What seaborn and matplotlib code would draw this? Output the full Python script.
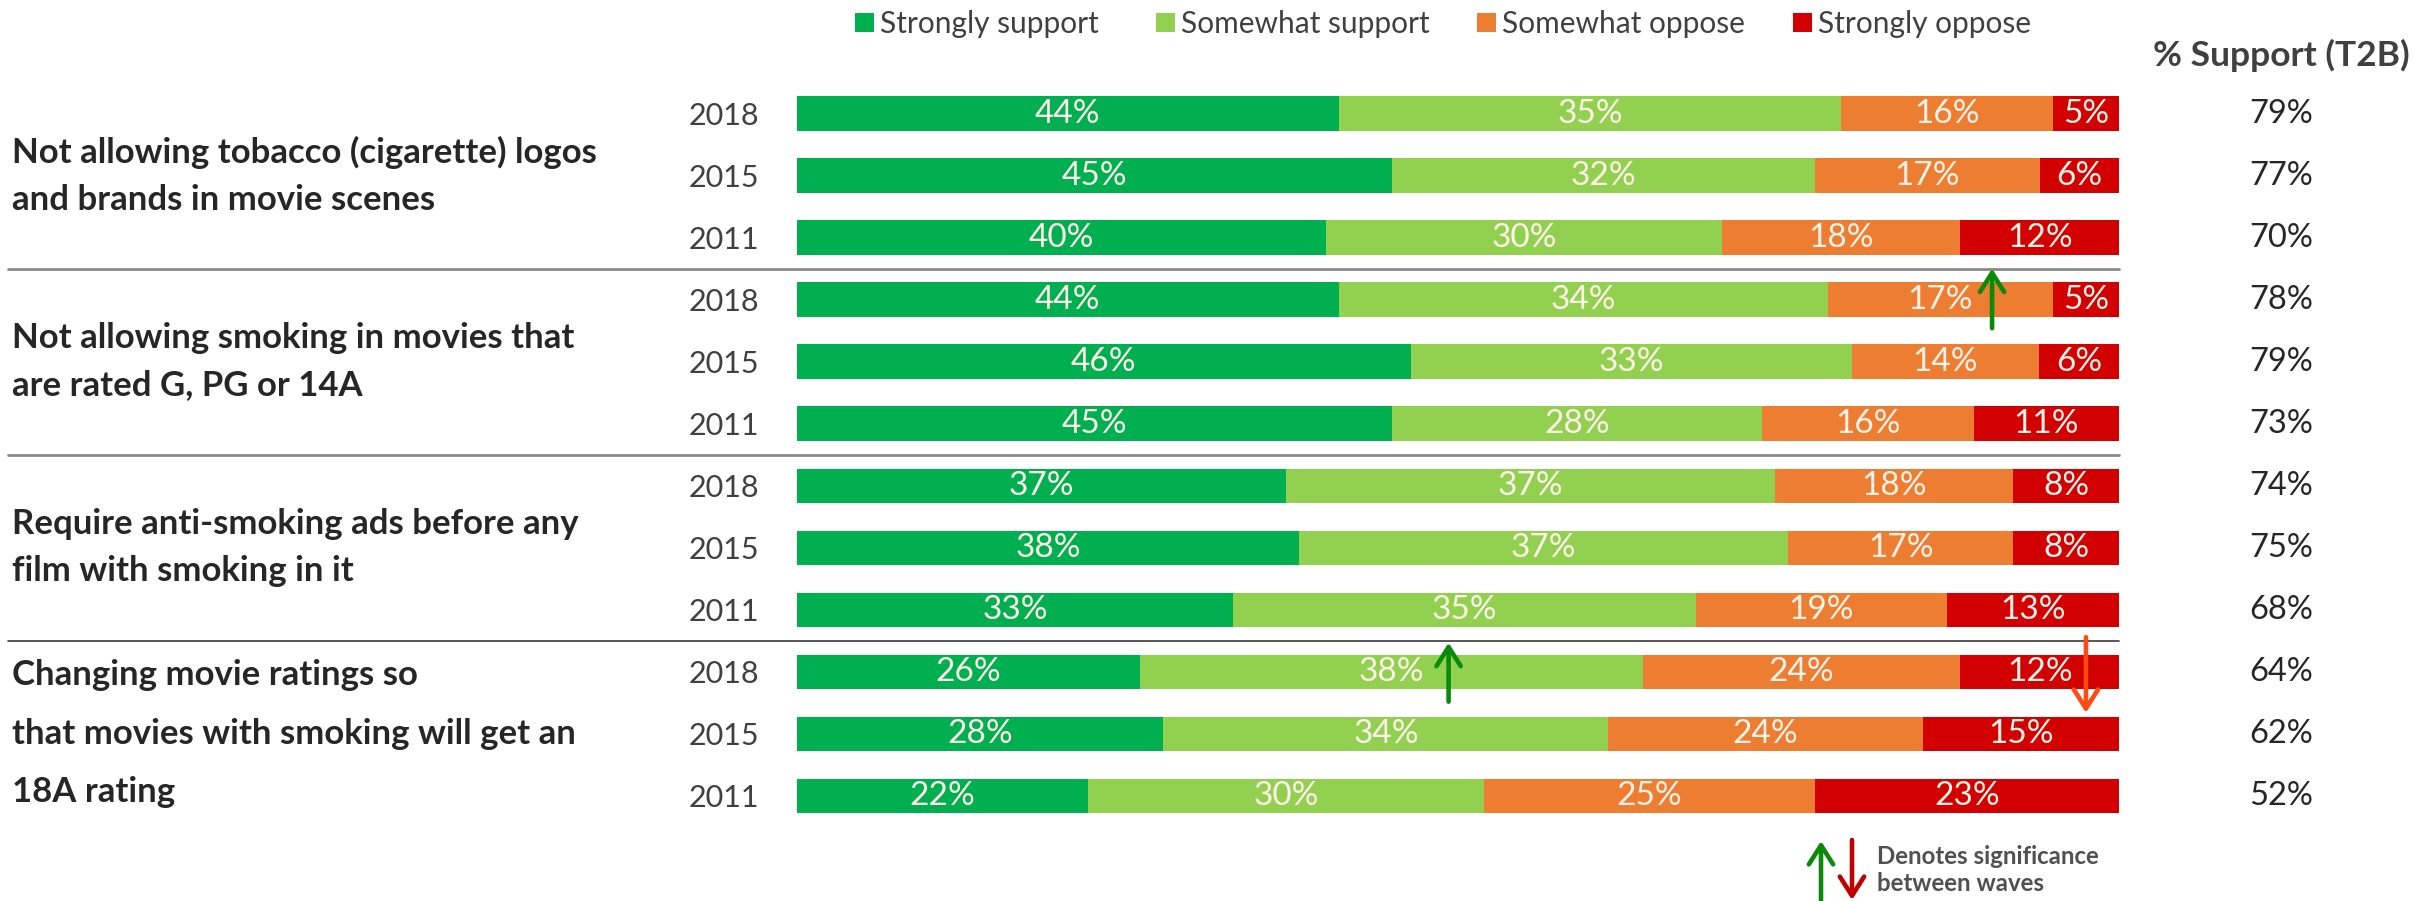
import numpy as np
import pandas as pd
import matplotlib
matplotlib.use("Agg")
import matplotlib.pyplot as plt
import matplotlib.transforms as mtransforms
from matplotlib.patches import Patch, FancyArrowPatch
import seaborn as sns

# ---------------- data ----------------
categories = [
    "Not allowing tobacco (cigarette) logos\nand brands in movie scenes",
    "Not allowing smoking in movies that\nare rated G, PG or 14A",
    "Require anti-smoking ads before any\nfilm with smoking in it",
    "Changing movie ratings so\nthat movies with smoking will get an\n18A rating",
]
years = ["2018", "2015", "2011"]
series = ["Strongly support", "Somewhat support", "Somewhat oppose", "Strongly oppose"]

# printed percentages (as labelled in the chart)
strongly_support_lbl = [44, 45, 40, 44, 46, 45, 37, 38, 33, 26, 28, 22]
somewhat_support_lbl = [35, 32, 30, 34, 33, 28, 37, 37, 35, 38, 34, 30]
somewhat_oppose_lbl = [16, 17, 18, 17, 14, 16, 18, 17, 19, 24, 24, 25]
strongly_oppose_lbl = [5, 6, 12, 5, 6, 11, 8, 8, 13, 12, 15, 23]

# bar lengths as drawn in the chart
strongly_support_bar = [41, 45, 40, 41, 46, 45, 37, 38, 33, 26, 28, 22]
somewhat_support_bar = [38, 32, 30, 37, 33, 28, 37, 37, 35, 38, 34, 30]
somewhat_oppose_bar = [16, 17, 18, 17, 14, 16, 18, 17, 19, 24, 24, 25]
strongly_oppose_bar = [5, 6, 12, 5, 6, 11, 8, 8, 13, 12, 15, 23]

t2b_support = [79, 77, 70, 78, 79, 73, 74, 75, 68, 64, 62, 52]

colors = ["#00B050", "#92D050", "#ED7D31", "#D20000"]

# ---------------- build table ----------------
row_ids = [f"{c}|{y}" for c in range(len(categories)) for y in years]
row_years = [y for _ in categories for y in years]
bars = np.array([strongly_support_bar, somewhat_support_bar,
                 somewhat_oppose_bar, strongly_oppose_bar], dtype=float).T
shares = bars / bars.sum(axis=1, keepdims=True) * 100
cum = np.cumsum(shares, axis=1)
labels = np.array([strongly_support_lbl, somewhat_support_lbl,
                   somewhat_oppose_lbl, strongly_oppose_lbl]).T
df = pd.DataFrame({"row": row_ids})
for i, s in enumerate(series):
    df[s] = cum[:, i]

# ---------------- figure ----------------
sns.set_theme(style="white")
plt.rcParams["font.family"] = ["Lato", "DejaVu Sans"]

W, H = 2415, 901
fig = plt.figure(figsize=(W / 100, H / 100), dpi=100)
ax_left, ax_right = 796.7, 2119.0
ax_top, ax_bot = 82.5, 827.0
ax = fig.add_axes([ax_left / W, 1 - ax_bot / H, (ax_right - ax_left) / W, (ax_bot - ax_top) / H])

for i in reversed(range(len(series))):
    sns.barplot(data=df, x=series[i], y="row", order=row_ids, orient="h",
                color=colors[i], saturation=1, width=0.556, errorbar=None,
                linewidth=0, ax=ax)

ax.set_xlim(0, 100)
ax.set_ylim(len(row_ids) - 0.5, -0.5)
ax.set_xlabel("")
ax.set_ylabel("")
ax.set_xticks([])
for sp in ax.spines.values():
    sp.set_visible(False)
ax.set_yticks(range(len(row_ids)))
ax.set_yticklabels(row_years, fontsize=22, color="#404040")
ax.tick_params(axis="y", length=0, pad=27)

# segment labels
for r in range(len(row_ids)):
    left = 0.0
    for i in range(len(series)):
        ax.text(left + shares[r, i] / 2, r, f"{labels[r, i]}%", ha="center", va="center",
                fontsize=24, color="#FFF3EA")
        left += shares[r, i]

# T2B column
trans_fy = mtransforms.blended_transform_factory(fig.transFigure, ax.transData)
for r, v in enumerate(t2b_support):
    ax.text(2281 / W, r, f"{v}%", transform=trans_fy, ha="center", va="center",
            fontsize=23.5, color="#262626")
fig.text(2281 / W, 1 - 55 / H, "% Support (T2B)", ha="center", va="center",
         fontsize=25.5, fontweight="bold", color="#404040")

# category labels
spacings = [1.58, 1.58, 1.58, 2.02]
for g, cat in enumerate(categories):
    ax.text(12 / W, g * 3 + 1, cat, transform=trans_fy, ha="left", va="center",
            fontsize=25, fontweight="bold", color="#262626", linespacing=spacings[g])

# group separators
sep_colors = ["#8a8a8a", "#8a8a8a", "#3a3a3a"]
sep_widths = [2.0, 2.0, 1.2]
for g in range(1, len(categories)):
    ax.plot([8 / W, ax_right / W], [g * 3 - 0.5, g * 3 - 0.5], transform=trans_fy,
            color=sep_colors[g - 1], lw=sep_widths[g - 1], clip_on=False, zorder=1)

# significance arrows (data coords)
ARROW = "->,head_length=0.55,head_width=0.35"


def arrow(tail, tip, color):
    ax.annotate("", xy=tip, xytext=tail, xycoords="data", textcoords="data",
                arrowprops=dict(arrowstyle=ARROW, lw=3.3, color=color, mutation_scale=25,
                                shrinkA=0, shrinkB=0), annotation_clip=False, zorder=5)


arrow((90.4, 3.46), (90.4, 2.5), "#0A8A0A")
arrow((49.3, 9.48), (49.3, 8.53), "#0A8A0A")
arrow((97.5, 8.44), (97.5, 9.66), "#FF4A12")


# legend of significance
def fig_arrow(tail, tip, color):
    fig.add_artist(FancyArrowPatch(
        (tail[0] / W, 1 - tail[1] / H), (tip[0] / W, 1 - tip[1] / H),
        transform=fig.transFigure, arrowstyle=ARROW,
        lw=3.3, color=color, mutation_scale=25, shrinkA=0, shrinkB=0))


fig_arrow((1821, 905), (1821, 841), "#0A8A0A")
fig_arrow((1852, 840), (1852, 900), "#C00000")
fig.text(1877 / W, 1 - 870 / H, "Denotes significance\nbetween waves", ha="left", va="center",
         fontsize=17.3, fontweight="bold", color="#505050", linespacing=1.25)

# legend (one entry per position, as in the original layout)
legend_x = [855, 1156, 1477, 1793]
for x, c, s in zip(legend_x, colors, series):
    leg = fig.legend([Patch(facecolor=c, edgecolor="none")], [s], loc="center left",
                     bbox_to_anchor=(x / W, 1 - 24 / H), frameon=False, fontsize=21.5,
                     handlelength=0.65, handleheight=0.65, handletextpad=0.2,
                     borderpad=0, borderaxespad=0)
    for t in leg.get_texts():
        t.set_color("#404040")

fig.savefig("out.png", dpi=100)
